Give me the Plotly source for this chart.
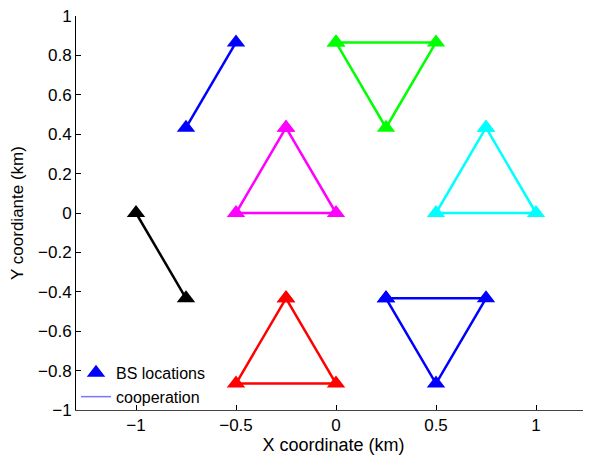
import plotly.graph_objects as go

# Cooperation clusters: (x list, y list, colour)
cluster_x = [
    [-0.75, -0.5],
    [0.0, 0.5, 0.25, 0.0],
    [-0.25, -0.5, 0.0, -0.25],
    [0.75, 0.5, 1.0, 0.75],
    [-1.0, -0.75],
    [-0.25, -0.5, 0.0, -0.25],
    [0.25, 0.75, 0.5, 0.25],
]
cluster_y = [
    [0.433, 0.866],
    [0.866, 0.866, 0.433, 0.866],
    [0.433, 0.0, 0.0, 0.433],
    [0.433, 0.0, 0.0, 0.433],
    [0.0, -0.433],
    [-0.433, -0.866, -0.866, -0.433],
    [-0.433, -0.433, -0.866, -0.433],
]
cluster_colors = ["#0000ff", "#00ff00", "#ff00ff", "#00ffff", "#000000", "#ff0000", "#0000ff"]

x_ticks = [-1, -0.5, 0, 0.5, 1]
x_tick_text = ["\u22121", "\u22120.5", "0", "0.5", "1"]
y_ticks = [-1, -0.8, -0.6, -0.4, -0.2, 0, 0.2, 0.4, 0.6, 0.8, 1]
y_tick_text = ["\u22121", "\u22120.8", "\u22120.6", "\u22120.4", "\u22120.2", "0", "0.2", "0.4", "0.6", "0.8", "1"]

fig = go.Figure()
for xs, ys, c in zip(cluster_x, cluster_y, cluster_colors):
    fig.add_trace(go.Scatter(
        x=xs, y=ys, mode="lines+markers",
        line=dict(color=c, width=2.5),
        marker=dict(symbol="triangle-up", size=16, color=c),
        showlegend=False, hoverinfo="skip",
    ))

# legend entries
fig.add_trace(go.Scatter(x=[None], y=[None], mode="markers", name="BS locations",
                         marker=dict(symbol="triangle-up", size=16, color="#0000ff")))
fig.add_trace(go.Scatter(x=[None], y=[None], mode="lines", name="cooperation",
                         line=dict(color="#7777ff", width=1.5)))

font = "Liberation Sans, Arial, Helvetica, sans-serif"
fig.update_layout(
    width=583, height=449,
    margin=dict(l=68, r=0, t=8, b=47),
    paper_bgcolor="white", plot_bgcolor="white",
    font=dict(family=font, size=17, color="black"),
    legend=dict(x=0.0, y=-0.01, xanchor="left", yanchor="bottom",
                bgcolor="rgba(0,0,0,0)", font=dict(size=16),
                tracegroupgap=0, itemwidth=30),
    xaxis=dict(range=[-1.3, 1.275], tickvals=x_ticks, ticktext=x_tick_text,
               showgrid=False, zeroline=False, showline=True, linecolor="#444",
               linewidth=1, ticks="inside", ticklen=5, tickcolor="black",
               tickfont=dict(size=17), automargin=False, ticklabeloverflow="allow",
               title=dict(text="X coordinate (km)", standoff=2, font=dict(size=18))),
    yaxis=dict(range=[-1, 1], tickvals=y_ticks, ticktext=y_tick_text,
               showgrid=False, zeroline=False, showline=True, linecolor="black",
               linewidth=1, ticks="inside", ticklen=5, tickcolor="black",
               tickfont=dict(size=17), automargin=False, ticklabeloverflow="allow",
               title=dict(text="Y coordiante (km)", standoff=10, font=dict(size=17))),
)
fig.write_html("out.html")
